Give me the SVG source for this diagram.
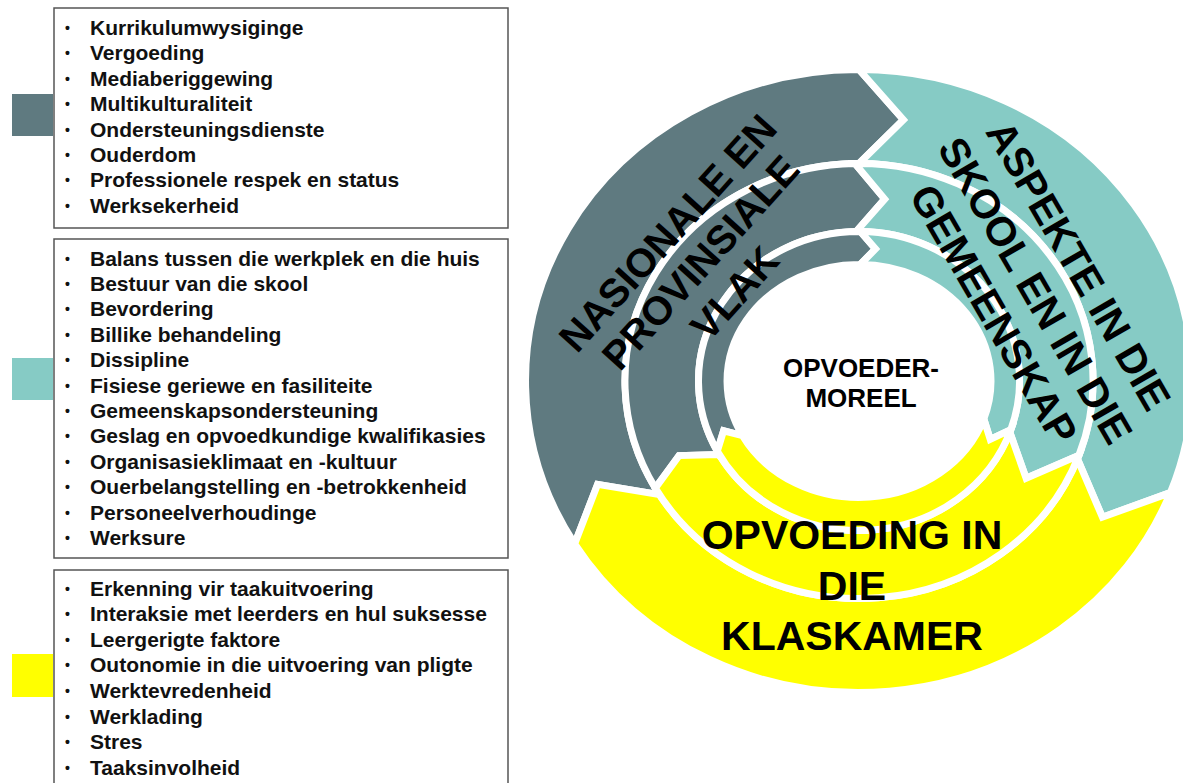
<svg xmlns="http://www.w3.org/2000/svg" width="1183" height="783" viewBox="0 0 1183 783">
<style>
.box{fill:#fff;stroke:#555;stroke-width:1.5}
.it{font-family:"Liberation Sans",Arial,sans-serif;font-weight:bold;font-size:21px;fill:#111}
.bu{font-size:14px}
.seg{stroke:#fff;stroke-width:7;stroke-linejoin:miter}
.dk{fill:#5F7A80}
.tl{fill:#86CBC5}
.yl{fill:#FFFF00}
.big{font-family:"Liberation Sans",Arial,sans-serif;font-weight:bold;fill:#000;text-anchor:middle}
</style>
<rect width="1183" height="783" fill="#fff"/>

<g id="legend-dark"><rect x="12" y="94" width="41" height="42" class="dk"/></g>
<g id="legend-teal"><rect x="12" y="358" width="41" height="42" class="tl"/></g>
<g id="legend-yellow"><rect x="12" y="654" width="41" height="43" class="yl"/></g>

<g id="box-national">
<rect x="54" y="8" width="454" height="220" class="box"/>
<text class="it" y="35"><tspan x="65" class="bu" dy="-2">•</tspan><tspan x="90" dy="2">Kurrikulumwysiginge</tspan></text>
<text class="it" y="60.4"><tspan x="65" class="bu" dy="-2">•</tspan><tspan x="90" dy="2">Vergoeding</tspan></text>
<text class="it" y="85.8"><tspan x="65" class="bu" dy="-2">•</tspan><tspan x="90" dy="2">Mediaberiggewing</tspan></text>
<text class="it" y="111.2"><tspan x="65" class="bu" dy="-2">•</tspan><tspan x="90" dy="2">Multikulturaliteit</tspan></text>
<text class="it" y="136.6"><tspan x="65" class="bu" dy="-2">•</tspan><tspan x="90" dy="2">Ondersteuningsdienste</tspan></text>
<text class="it" y="162"><tspan x="65" class="bu" dy="-2">•</tspan><tspan x="90" dy="2">Ouderdom</tspan></text>
<text class="it" y="187.4"><tspan x="65" class="bu" dy="-2">•</tspan><tspan x="90" dy="2">Professionele respek en status</tspan></text>
<text class="it" y="212.8"><tspan x="65" class="bu" dy="-2">•</tspan><tspan x="90" dy="2">Werksekerheid</tspan></text>
</g>

<g id="box-school">
<rect x="54" y="239" width="454" height="319" class="box"/>
<text class="it" y="265.5"><tspan x="65" class="bu" dy="-2">•</tspan><tspan x="90" dy="2">Balans tussen die werkplek en die huis</tspan></text>
<text class="it" y="290.9"><tspan x="65" class="bu" dy="-2">•</tspan><tspan x="90" dy="2">Bestuur van die skool</tspan></text>
<text class="it" y="316.3"><tspan x="65" class="bu" dy="-2">•</tspan><tspan x="90" dy="2">Bevordering</tspan></text>
<text class="it" y="341.7"><tspan x="65" class="bu" dy="-2">•</tspan><tspan x="90" dy="2">Billike behandeling</tspan></text>
<text class="it" y="367.1"><tspan x="65" class="bu" dy="-2">•</tspan><tspan x="90" dy="2">Dissipline</tspan></text>
<text class="it" y="392.5"><tspan x="65" class="bu" dy="-2">•</tspan><tspan x="90" dy="2">Fisiese geriewe en fasiliteite</tspan></text>
<text class="it" y="417.9"><tspan x="65" class="bu" dy="-2">•</tspan><tspan x="90" dy="2">Gemeenskapsondersteuning</tspan></text>
<text class="it" y="443.3"><tspan x="65" class="bu" dy="-2">•</tspan><tspan x="90" dy="2">Geslag en opvoedkundige kwalifikasies</tspan></text>
<text class="it" y="468.7"><tspan x="65" class="bu" dy="-2">•</tspan><tspan x="90" dy="2">Organisasieklimaat en -kultuur</tspan></text>
<text class="it" y="494.1"><tspan x="65" class="bu" dy="-2">•</tspan><tspan x="90" dy="2">Ouerbelangstelling en -betrokkenheid</tspan></text>
<text class="it" y="519.5"><tspan x="65" class="bu" dy="-2">•</tspan><tspan x="90" dy="2">Personeelverhoudinge</tspan></text>
<text class="it" y="544.9"><tspan x="65" class="bu" dy="-2">•</tspan><tspan x="90" dy="2">Werksure</tspan></text>
</g>

<g id="box-classroom">
<rect x="54" y="570" width="454" height="230" class="box"/>
<text class="it" y="595.5"><tspan x="65" class="bu" dy="-2">•</tspan><tspan x="90" dy="2">Erkenning vir taakuitvoering</tspan></text>
<text class="it" y="621.1"><tspan x="65" class="bu" dy="-2">•</tspan><tspan x="90" dy="2">Interaksie met leerders en hul suksesse</tspan></text>
<text class="it" y="646.7"><tspan x="65" class="bu" dy="-2">•</tspan><tspan x="90" dy="2">Leergerigte faktore</tspan></text>
<text class="it" y="672.3"><tspan x="65" class="bu" dy="-2">•</tspan><tspan x="90" dy="2">Outonomie in die uitvoering van pligte</tspan></text>
<text class="it" y="697.9"><tspan x="65" class="bu" dy="-2">•</tspan><tspan x="90" dy="2">Werktevredenheid</tspan></text>
<text class="it" y="723.5"><tspan x="65" class="bu" dy="-2">•</tspan><tspan x="90" dy="2">Werklading</tspan></text>
<text class="it" y="749.1"><tspan x="65" class="bu" dy="-2">•</tspan><tspan x="90" dy="2">Stres</tspan></text>
<text class="it" y="774.7"><tspan x="65" class="bu" dy="-2">•</tspan><tspan x="90" dy="2">Taaksinvolheid</tspan></text>
</g>

<g id="ring-outer">
<path class="seg dk" d="M 574.7 543.8 A 333.5 311.5 0 0 1 859 69.5 L 903.4 119.8 L 859 163.5 A 234 217.5 0 0 0 659.5 494.6 L 597.6 484.3 Z"/>
<path class="seg tl" d="M 859 69.5 A 333.5 311.5 0 0 1 1170.4 492.6 L 1102.4 517.2 L 1077.5 459 A 234 217.5 0 0 0 859 163.5 L 903.4 119.8 Z"/>
<path class="seg yl" d="M 1170.4 492.6 A 333.5 311.5 0 0 1 574.7 543.8 L 597.6 484.3 L 659.5 494.6 A 234 217.5 0 0 0 1077.5 459 L 1102.4 517.2 Z"/>
</g>
<g id="ring-middle">
<path class="seg dk" d="M 655.3 488.1 A 234 217.5 0 0 1 854.9 163.5 L 884.7 199.1 L 856.2 231.5 A 160.5 149.5 0 0 0 719.3 454.6 L 679 455.6 Z"/>
<path class="seg tl" d="M 854.9 163.5 A 234 217.5 0 0 1 1078.9 455.4 L 1026.1 478.2 L 1009.8 432.1 A 160.5 149.5 0 0 0 856.2 231.5 L 884.7 199.1 Z"/>
<path class="seg yl" d="M 1078.9 455.4 A 234 217.5 0 0 1 655.3 488.1 L 679 455.6 L 719.3 454.6 A 160.5 149.5 0 0 0 1009.8 432.1 L 1026.1 478.2 Z"/>
</g>
<g id="ring-inner">
<path class="seg dk" d="M 717.3 451.2 A 160.5 149.5 0 0 1 860.4 231.5 L 875.5 248.9 L 860.2 264.5 A 132 116.5 0 0 0 742.5 435.7 L 723.6 430.8 Z"/>
<path class="seg tl" d="M 860.4 231.5 A 160.5 149.5 0 0 1 1010.8 429.7 L 990.2 439.3 L 983.8 418.9 A 132 116.5 0 0 0 860.2 264.5 L 875.5 248.9 Z"/>
<path class="seg yl" d="M 1010.8 429.7 A 160.5 149.5 0 0 1 717.3 451.2 L 723.6 430.8 L 742.5 435.7 A 132 116.5 0 0 0 983.8 418.9 L 990.2 439.3 Z"/>
</g>

<g id="label-national" transform="translate(700,262) rotate(-48)">
<text class="big" font-size="40" x="0" y="-29.5">NASIONALE EN</text>
<text class="big" font-size="40" x="0" y="14.5">PROVINSIALE</text>
<text class="big" font-size="40" x="0" y="60.5">VLAK</text>
</g>
<g id="label-school" transform="translate(1036,290) rotate(60)">
<text class="big" font-size="41" x="0" y="-35">ASPEKTE IN DIE</text>
<text class="big" font-size="41" x="0" y="15">SKOOL EN IN DIE</text>
<text class="big" font-size="41" x="0" y="63">GEMEENSKAP</text>
</g>
<g id="label-classroom">
<text class="big" font-size="41" x="852" y="549">OPVOEDING IN</text>
<text class="big" font-size="41" x="852" y="600">DIE</text>
<text class="big" font-size="41" x="852" y="650">KLASKAMER</text>
</g>
<g id="center">
<text class="big" font-size="26" x="861" y="377">OPVOEDER-</text>
<text class="big" font-size="26" x="861" y="407">MOREEL</text>
</g>
</svg>
